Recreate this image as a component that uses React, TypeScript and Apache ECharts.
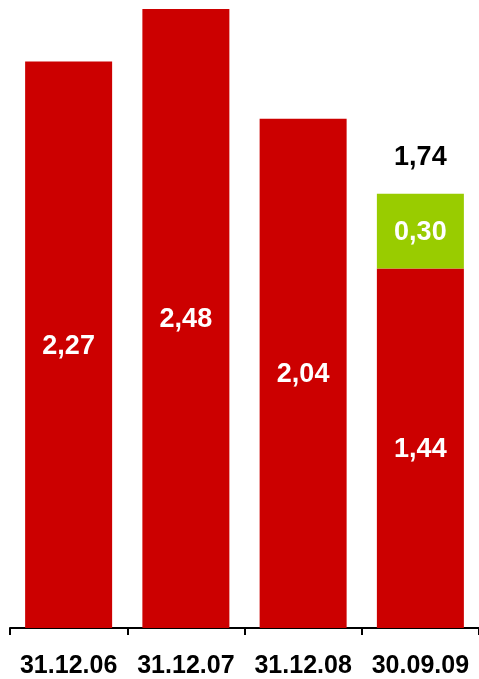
import React, { useEffect, useRef } from "react";
import * as echarts from "echarts";

const categories = ["31.12.06", "31.12.07", "31.12.08", "30.09.09"];
const redValues = [2.27, 2.48, 2.04, 1.44];
const greenValues: (number | null)[] = [null, null, null, 0.3];
const totals: (number | null)[] = [null, null, null, 1.74];

const fmt = (v: number) => v.toFixed(2).replace(".", ",");
const FONT = 'Arial, "Liberation Sans", sans-serif';

export default function App() {
  const ref = useRef<HTMLDivElement>(null);
  useEffect(() => {
    if (!ref.current) return;
    const chart = echarts.init(ref.current, null, { renderer: "svg" });
    chart.setOption({
      animation: false,
      grid: { left: 10, right: -2, top: 4, bottom: 51, containLabel: false },
      xAxis: {
        type: "category",
        data: categories,
        axisLine: { lineStyle: { color: "#000", width: 2 } },
        axisTick: {
          show: true,
          interval: 0,
          length: 7,
          lineStyle: { color: "#000", width: 2 },
        },
        axisLabel: {
          interval: 0,
          color: "#000",
          fontSize: 25,
          fontWeight: "bold",
          fontFamily: FONT,
          margin: 23,
        },
      },
      yAxis: {
        type: "value",
        min: 0,
        max: 2.5,
        show: false,
        splitLine: { show: false },
      },
      series: [
        {
          type: "bar",
          stack: "s",
          data: redValues,
          barWidth: 87,
          itemStyle: { color: "#CC0000" },
          label: {
            show: true,
            position: "inside",
            color: "#fff",
            fontSize: 27,
            fontWeight: "bold",
            fontFamily: FONT,
            formatter: (p: any) => fmt(p.value),
          },
        },
        {
          type: "bar",
          stack: "s",
          data: greenValues,
          barWidth: 87,
          itemStyle: { color: "#99CC00" },
          label: {
            show: true,
            position: "inside",
            color: "#fff",
            fontSize: 27,
            fontWeight: "bold",
            fontFamily: FONT,
            formatter: (p: any) => (p.value == null ? "" : fmt(p.value)),
          },
        },
        {
          type: "bar",
          stack: "s",
          data: totals.map((t) => (t == null ? null : 0)),
          barWidth: 87,
          itemStyle: { color: "transparent" },
          label: {
            show: true,
            position: "top",
            distance: 24,
            color: "#000",
            fontSize: 27,
            fontWeight: "bold",
            fontFamily: FONT,
            formatter: (p: any) => {
              const t = totals[p.dataIndex];
              return t == null ? "" : fmt(t);
            },
          },
        },
      ],
    });
    return () => chart.dispose();
  }, []);
  return (
    <div
      ref={ref}
      style={{ position: "fixed", left: 0, top: 0, width: 479, height: 679 }}
    />
  );
}
